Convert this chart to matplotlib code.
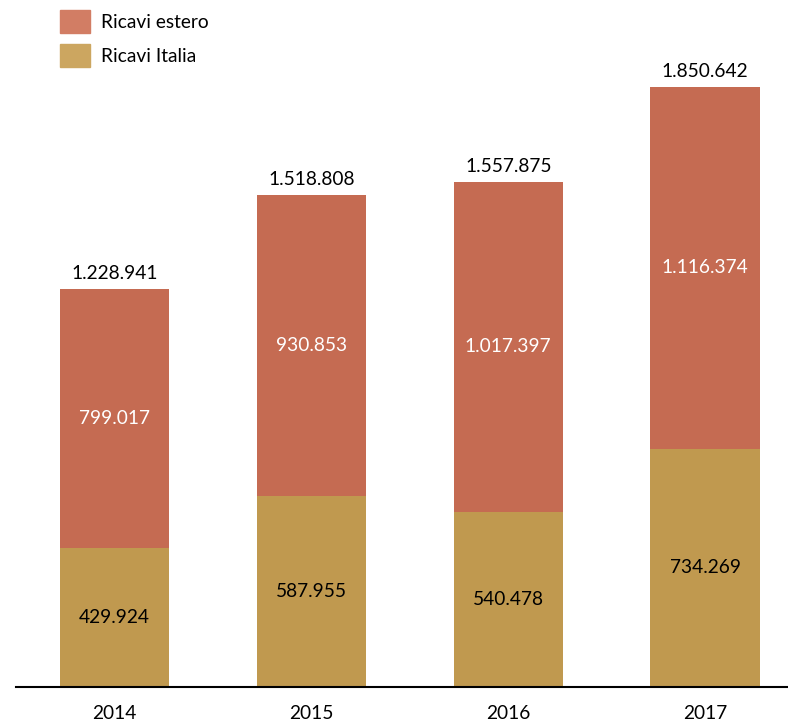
import matplotlib
matplotlib.use("Agg")
import matplotlib.pyplot as plt
from matplotlib.patches import Patch

plt.rcParams['font.family'] = ['Lato', 'DejaVu Sans']

# ricavi per anno
anni = ['2014', '2015', '2016', '2017']
ricavi_italia = [429924, 587955, 540478, 734269]
ricavi_estero = [799017, 930853, 1017397, 1116374]
totali = [1228941, 1518808, 1557875, 1850642]

col_estero = '#C56B52'
col_italia = '#C0994F'
fs = 13.8


def fmt(v):
    return '{:,}'.format(v).replace(',', '.')


fig = plt.figure(figsize=(7.88, 7.25), dpi=100)
ax = fig.add_axes([16 / 788, 38 / 725, 772 / 788, 687 / 725])

x = range(len(anni))
ax.bar(x, ricavi_italia, width=0.555, color=col_italia)
ax.bar(x, ricavi_estero, width=0.555, bottom=ricavi_italia, color=col_estero)

for i in x:
    ax.text(i, ricavi_italia[i] / 2, fmt(ricavi_italia[i]), ha='center', va='center',
            fontsize=fs, color='black')
    ax.text(i, ricavi_italia[i] + ricavi_estero[i] / 2, fmt(ricavi_estero[i]),
            ha='center', va='center', fontsize=fs, color='white')
    ax.text(i, totali[i] + 48000, fmt(totali[i]), ha='center', va='center',
            fontsize=fs, color='black')

ax.set_xlim(-0.5, 3.421)
ax.set_ylim(0, 2.119e6)
ax.set_xticks(list(x))
ax.set_xticklabels(anni, fontsize=fs)
ax.tick_params(axis='x', length=0, pad=13)
ax.set_yticks([])
for s in ['top', 'right', 'left']:
    ax.spines[s].set_visible(False)
ax.spines['bottom'].set_linewidth(1.5)

handles = [Patch(color='#D27D64', label='Ricavi estero'),
           Patch(color='#CCA660', label='Ricavi Italia')]
fig.legend(handles=handles, loc='upper left', bbox_to_anchor=(52 / 788, 1 - 2 / 725),
           frameon=False, fontsize=fs, handlelength=1.56, handleheight=1.47,
           labelspacing=0.61, handletextpad=0.62, borderaxespad=0)

fig.savefig('out.png', dpi=100)
